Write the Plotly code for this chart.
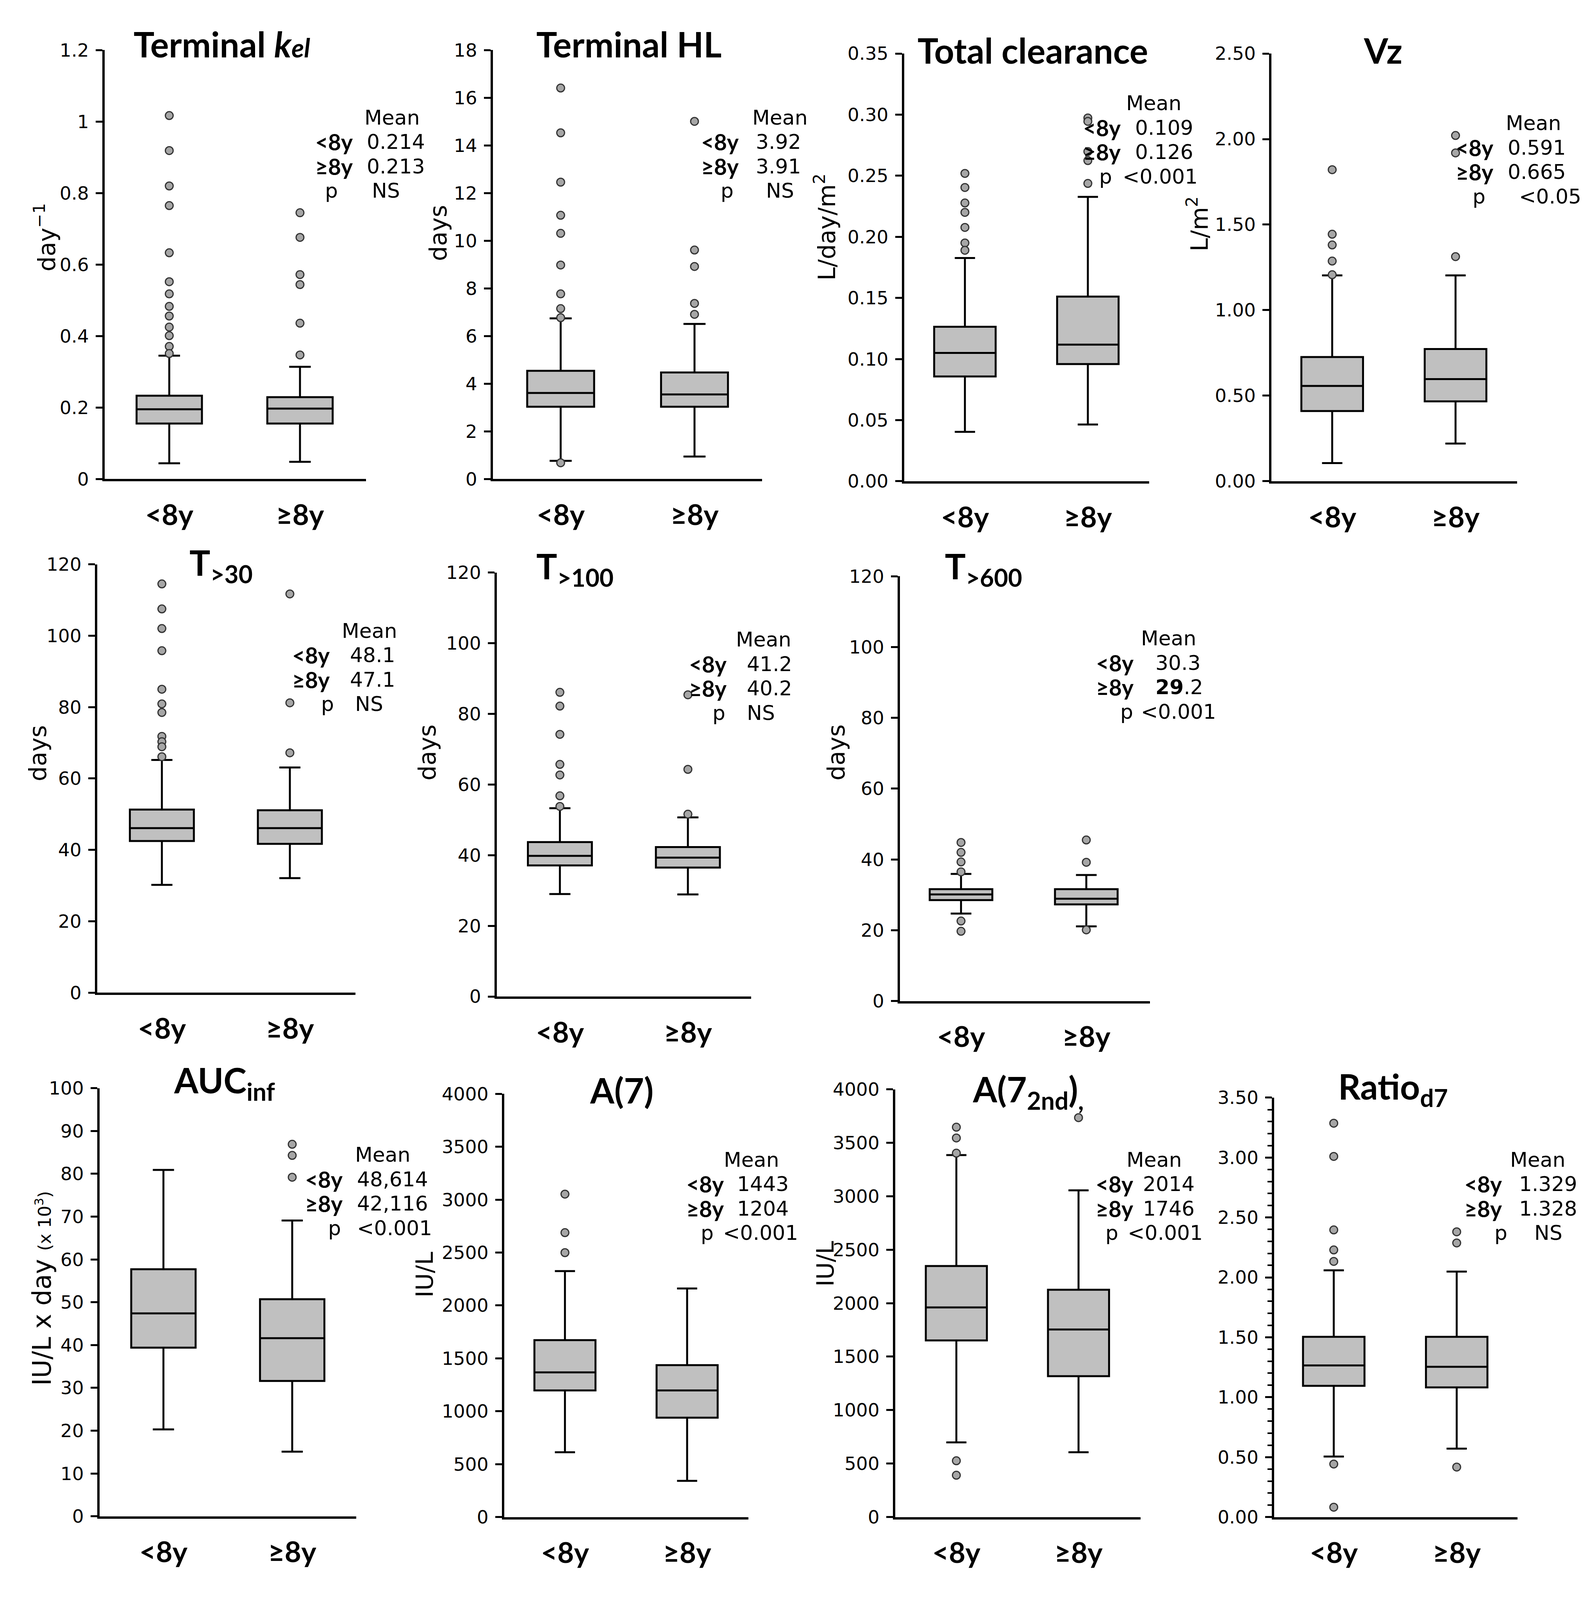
import plotly.graph_objects as go

# reference is 4086 x 4173; the page is photographed 4086 px tall,
# so the whole figure is scaled into a 4070 x 4070 box (8 px body margin)
REF_W, REF_H = 4086, 4173
W = H = 4070

# panel titles and axis titles
titles = ["Terminal <i>k<span style='font-size:66px'>el</span></i>", "Terminal HL", "Total clearance", "Vz",
          "T<sub>&gt;30</sub>", "T<sub>&gt;100</sub>", "T<sub>&gt;600</sub>",
          "AUC<sub>inf</sub>", "A(7)", "A(7<sub>2nd</sub>)<sub>,</sub>", "Ratio<sub>d7</sub>"]
ytitles = ["day<sup>\u22121</sup>", "days", "L/day/m<sup>2</sup>", "L/m<sup>2</sup>",
           "days", "days", "days",
           "IU/L x day <span style='font-size:45px'>(x 10<sup>3</sup>)</span>", "IU/L", "IU/L", ""]
groups = ["&lt;8y", "\u22658y"]

# box stats: lower whisker, q1, median, q3, upper whisker
lo_lt8 = [0.044, 0.76, 0.0404, 0.106, 30.2, 29.0, 24.7, 20.3, 612, 698, 0.505]
q1_lt8 = [0.155, 3.03, 0.0857, 0.410, 42.5, 37.1, 28.5, 39.4, 1197, 1652, 1.095]
med_lt8 = [0.195, 3.61, 0.105, 0.557, 46.1, 39.8, 30.1, 47.4, 1367, 1960, 1.265]
q3_lt8 = [0.233, 4.54, 0.1264, 0.726, 51.3, 43.7, 31.6, 57.7, 1672, 2348, 1.504]
hi_lt8 = [0.345, 6.74, 0.1827, 1.203, 65.2, 53.3, 35.9, 80.9, 2325, 3385, 2.059]

lo_ge8 = [0.048, 0.94, 0.0464, 0.220, 32.1, 28.9, 21.1, 15.1, 342, 606, 0.571]
q1_ge8 = [0.155, 3.03, 0.0959, 0.467, 41.7, 36.5, 27.3, 31.6, 939, 1317, 1.082]
med_ge8 = [0.197, 3.55, 0.1118, 0.597, 46.1, 39.3, 28.9, 41.6, 1197, 1754, 1.254]
q3_ge8 = [0.229, 4.47, 0.1511, 0.773, 51.1, 42.3, 31.6, 50.7, 1436, 2126, 1.504]
hi_ge8 = [0.314, 6.51, 0.2327, 1.203, 63.1, 50.7, 35.6, 69.1, 2160, 3055, 2.048]

out_lt8 = [
    [1.017, 0.919, 0.820, 0.765, 0.633, 0.552, 0.518, 0.483, 0.456, 0.425, 0.401, 0.371, 0.351],
    [16.41, 14.53, 12.46, 11.07, 10.31, 8.98, 7.77, 7.15, 6.77, 0.68],
    [0.2519, 0.2404, 0.2277, 0.220, 0.2077, 0.195, 0.189],
    [1.821, 1.444, 1.381, 1.287, 1.207],
    [114.5, 107.5, 102.0, 95.8, 85.0, 80.9, 78.5, 71.8, 70.3, 68.9, 66.1],
    [86.1, 82.2, 74.2, 65.7, 62.7, 56.8, 53.8],
    [44.8, 42.0, 39.3, 36.5, 22.6, 19.7],
    [],
    [3052, 2688, 2499],
    [3646, 3545, 3403, 526, 391],
    [3.286, 3.009, 2.396, 2.229, 2.133, 0.442, 0.082],
]
out_ge8 = [
    [0.745, 0.676, 0.572, 0.544, 0.436, 0.347],
    [15.01, 9.61, 8.92, 7.37, 6.91],
    [0.2973, 0.2945, 0.2698, 0.2624, 0.2437],
    [2.021, 1.919, 1.313],
    [111.7, 81.2, 67.2],
    [85.4, 64.3, 51.6],
    [45.5, 39.2, 20.1],
    [86.9, 84.3, 79.2],
    [],
    [3735],
    [2.380, 2.287, 0.417],
]

mean_lt8 = ["0.214", "3.92", "0.109", "0.591", "48.1", "41.2", "30.3", "48,614", "1443", "2014", "1.329"]
mean_ge8 = ["0.213", "3.91", "0.126", "0.665", "47.1", "40.2", "29.2", "42,116", "1204", "1746", "1.328"]
p_vals = ["NS", "NS", "&lt;0.001", "&lt;0.05", "NS", "NS", "&lt;0.001", "&lt;0.001", "&lt;0.001", "&lt;0.001", "NS"]

ymax = [1.2, 18, 0.35, 2.5, 120, 120, 120, 100, 4000, 4000, 3.5]
dtick = [0.2, 2, 0.05, 0.5, 20, 20, 20, 10, 500, 500, 0.5]
tfmt = ["", "", ".2f", ".2f", "", "", "", "", "", "", ".2f"]

# layout in reference pixels: y-axis x, cat0 x, cat1 x, x-axis end, top, bottom
geom = [(261, 427, 763, 933, 96, 1237), (1259, 1433, 1777, 1951, 96, 1237),
        (2316, 2472, 2788, 2946, 105, 1243), (3260, 3416, 3733, 3891, 105, 1243),
        (242, 408, 737, 906, 1464, 2604), (1269, 1431, 1760, 1923, 1486, 2614),
        (2305, 2462, 2784, 2948, 1496, 2626),
        (248, 412, 743, 908, 2858, 3997), (1288, 1444, 1758, 1915, 2873, 3999),
        (2293, 2450, 2764, 2923, 2861, 3999), (3267, 3420, 3736, 3892, 2883, 3999)]
title_pos = [(562, 80), (1608, 80), (2646, 96), (3546, 96), (560, 1465), (1470, 1475), (2520, 1475),
             (569, 2843), (1590, 2863), (2635, 2867), (3572, 2859)]
ytitle_pos = [(107, 594), (1118, 583), (2112, 567), (3070, 558), (89, 1967), (1090, 1965), (2141, 1965),
              (100, 3391), (1082, 3354), (2112, 3325), None]
# mean block: Mean centre x, Mean y, label right, value left, p right, p value left
mean_pos = [(1000, 275, 902, 933, 862, 946), (1997, 275, 1893, 1933, 1879, 1959),
            (2958, 237, 2875, 2907, 2852, 2875), (3933, 290, 3833, 3865, 3812, 3894),
            (942, 1641, 842, 889, 852, 903), (1955, 1664, 1862, 1909, 1858, 1909),
            (2996, 1661, 2908, 2960, 2906, 2922),
            (976, 3035, 875, 908, 870, 908), (1924, 3048, 1855, 1884, 1828, 1848),
            (2959, 3048, 2907, 2927, 2868, 2888), (3944, 3048, 3855, 3894, 3868, 3933)]

TICKF = "DejaVu Sans"
BOLDF = "Lato"
def px(x): return x / REF_W
def py(y): return 1 - y / REF_H

fig = go.Figure()
annots = []
lay = {}

for i in range(11):
    n = "" if i == 0 else str(i + 1)
    xa, ya = "x" + n, "y" + n
    ax, c0, c1, xe, yt, yb = geom[i]
    u = c1 - c0

    for k, (lo, q1, md, q3, hi, outs) in enumerate([
            (lo_lt8, q1_lt8, med_lt8, q3_lt8, hi_lt8, out_lt8),
            (lo_ge8, q1_ge8, med_ge8, q3_ge8, hi_ge8, out_ge8)]):
        fig.add_trace(go.Box(x=[k], q1=[q1[i]], median=[md[i]], q3=[q3[i]],
                             lowerfence=[lo[i]], upperfence=[hi[i]], width=0.5, whiskerwidth=0.33,
                             boxpoints=False, fillcolor="#c0c0c0", line=dict(color="black", width=5),
                             xaxis=xa, yaxis=ya, showlegend=False, hoverinfo="skip"))
        if outs[i]:
            fig.add_trace(go.Scatter(x=[k] * len(outs[i]), y=outs[i], mode="markers",
                                     marker=dict(size=20, color="#a6a6a6", line=dict(color="#333333", width=3)),
                                     xaxis=xa, yaxis=ya, showlegend=False, hoverinfo="skip"))

    lay["xaxis" + n] = dict(domain=[px(ax), px(xe)], range=[(ax - c0) / u, 1 + (xe - c1) / u],
                            anchor=ya, showline=True, linecolor="black", linewidth=6, showgrid=False,
                            zeroline=False, ticks="", tickvals=[0, 1],
                            ticktext=["<b>" + g + "</b>" for g in groups],
                            tickfont=dict(family=BOLDF, size=73, color="black"), ticklabelstandoff=24)
    yrange = [0, ymax[i] * 1.000001]
    yax = dict(domain=[py(yb), py(yt)], range=yrange, anchor=xa, showline=True,
               linecolor="black", linewidth=6, showgrid=False, zeroline=False, tickmode="linear",
               tick0=0, dtick=dtick[i], tickformat=tfmt[i], ticks="outside", ticklen=17, tickwidth=5,
               tickcolor="black", tickfont=dict(family=TICKF, size=47, color="black"), ticklabelstandoff=8)
    # second copy of the axis to draw the inner half of the crossing ticks
    yin = dict(range=yrange, overlaying=ya, anchor=xa, side="left", showline=False, showgrid=False,
               zeroline=False, showticklabels=False, tickmode="linear", tick0=0, dtick=dtick[i],
               ticks="inside", ticklen=12, tickwidth=5, tickcolor="black")
    if i == 10:
        yax["minor"] = dict(dtick=0.1, ticks="outside", ticklen=11, tickwidth=4, tickcolor="black")
        yin["minor"] = dict(dtick=0.1, ticks="inside", ticklen=9, tickwidth=4, tickcolor="black")
    lay["yaxis" + n] = yax
    lay["yaxis" + str(12 + i)] = yin

    tx, ty = title_pos[i]
    annots.append(dict(x=px(tx), y=py(ty), xref="paper", yref="paper", text="<b>" + titles[i] + "</b>",
                       showarrow=False, xanchor="center", yanchor="middle",
                       font=dict(family=BOLDF, size=89, color="black")))
    if ytitle_pos[i]:
        yx, yy = ytitle_pos[i]
        annots.append(dict(x=px(yx), y=py(yy), xref="paper", yref="paper", text=ytitles[i], textangle=-90,
                           showarrow=False, xanchor="center", yanchor="middle",
                           font=dict(family=TICKF, size=65 if i == 7 else 61, color="black")))

    mx, my, lr, vl, pr, pvl = mean_pos[i]
    dy = 65
    txtf = dict(family=TICKF, size=52, color="black")
    labf = dict(family=BOLDF, size=57, color="black")
    annots.append(dict(x=px(mx), y=py(my), xref="paper", yref="paper", text="Mean", showarrow=False,
                       xanchor="center", yanchor="middle", font=txtf))
    v2 = mean_ge8[i]
    if i == 6:  # integer part printed bold in the source figure
        v2 = "<b>" + v2.split(".")[0] + "</b>." + v2.split(".")[1]
    for r, (lab, val) in enumerate([(groups[0], mean_lt8[i]), (groups[1], v2)]):
        yy = my + dy * (r + 1)
        annots.append(dict(x=px(lr), y=py(yy), xref="paper", yref="paper", text="<b>" + lab + "</b>",
                           showarrow=False, xanchor="right", yanchor="middle", font=labf))
        annots.append(dict(x=px(vl), y=py(yy), xref="paper", yref="paper", text=val,
                           showarrow=False, xanchor="left", yanchor="middle", font=txtf))
    yy = my + dy * 3
    annots.append(dict(x=px(pr), y=py(yy), xref="paper", yref="paper", text="p",
                       showarrow=False, xanchor="right", yanchor="middle", font=txtf))
    annots.append(dict(x=px(pvl), y=py(yy), xref="paper", yref="paper", text=p_vals[i],
                       showarrow=False, xanchor="left", yanchor="middle", font=txtf))

fig.update_layout(width=W, height=H, margin=dict(l=0, r=0, t=0, b=0), paper_bgcolor="white",
                  plot_bgcolor="white", annotations=annots, **lay)
fig.write_html("out.html")
